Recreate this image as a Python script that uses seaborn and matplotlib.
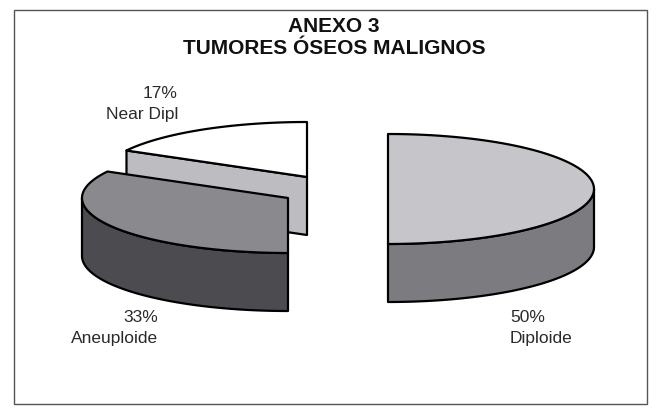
import numpy as np
import matplotlib
matplotlib.use("Agg")
import matplotlib.pyplot as plt
import seaborn as sns
from matplotlib.patches import Polygon, Rectangle

# ---- data ----
categories = ["Diploide", "Near Dipl", "Aneuploide"]
values = [50, 17, 33]
pct_labels = ["50%", "17%", "33%"]
title_lines = ["ANEXO 3", "TUMORES ÓSEOS MALIGNOS"]

# ---- style ----
sns.set_theme(style="white")
plt.rcParams['font.family'] = ['Liberation Sans', 'DejaVu Sans']

top_colors = ["#c6c6ca", "#ffffff", "#8a8a8e"]
side_colors = ["#7c7c80", "#bdbdc1", "#4c4c50"]
cut_colors = ["#9a9a9e", "#bdbdc1", "#6a6a6e"]
centers = [(388, 189), (307, 177), (288, 198)]   # exploded centres (pixel layout)
A, B, DEPTH = 206, 55, 58
label_pos = [(510, 318, 'left'), (178, 93, 'right'), (158, 317, 'right')]

fig = plt.figure(figsize=(6.59, 4.08), dpi=100)
ax = fig.add_axes([0, 0, 1, 1])
ax.set_xlim(0, 659)
ax.set_ylim(408, 0)
ax.axis('off')

total = float(sum(values))
start = -90.0
angles = []
for v in values:
    span = 360.0 * v / total
    angles.append((start, start + span))
    start += span

def pt(c, th, dz=0.0):
    r = np.deg2rad(th)
    return (c[0] + A * np.cos(r), c[1] - B * np.sin(r) + dz)

def arc(c, t1, t2, dz=0.0, n=120):
    ts = np.linspace(t1, t2, n)
    return [pt(c, t, dz) for t in ts]

LW = 1.6
draw_order = [1, 2, 0]
for i in draw_order:
    c = centers[i]
    t1, t2 = angles[i]
    # outer side (front half only: angles 180..360)
    for shift in (0, 360, -360):
        s1 = max(t1 + shift, 180.0)
        s2 = min(t2 + shift, 360.0)
        if s2 > s1 + 1e-6:
            top = arc(c, s1, s2)
            bot = arc(c, s1, s2, DEPTH)[::-1]
            ax.add_patch(Polygon(top + bot, closed=True, fc=side_colors[i],
                                 ec='black', lw=LW, joinstyle='round', zorder=2))
    # radial cut faces
    for th, normal in ((t1, t1 - 90), (t2, t2 + 90)):
        if np.sin(np.deg2rad(normal)) < -0.05:
            p_rim = pt(c, th)
            quad = [c, p_rim, (p_rim[0], p_rim[1] + DEPTH), (c[0], c[1] + DEPTH)]
            ax.add_patch(Polygon(quad, closed=True, fc=cut_colors[i],
                                 ec='black', lw=LW, joinstyle='round', zorder=2))
    # top face
    poly = [c] + arc(c, t1, t2)
    ax.add_patch(Polygon(poly, closed=True, fc=top_colors[i],
                         ec='black', lw=LW, joinstyle='round', zorder=3))

for i, (x, y, ha) in enumerate(label_pos):
    ax.text(x, y, pct_labels[i], ha=ha, va='center', fontsize=12.5, color='#2a2a2a')
    ax.text(x, y + 21, categories[i], ha=ha, va='center', fontsize=12.5, color='#2a2a2a')

ax.text(334, 27, title_lines[0], ha='center', va='center', fontsize=15,
        fontweight='bold', color='#111111')
ax.text(334, 49, title_lines[1], ha='center', va='center', fontsize=15,
        fontweight='bold', color='#111111')

ax.add_patch(Rectangle((14, 10), 633, 394, fill=False, ec='#555555', lw=1.0, zorder=1))

fig.savefig("out.png", dpi=100)
